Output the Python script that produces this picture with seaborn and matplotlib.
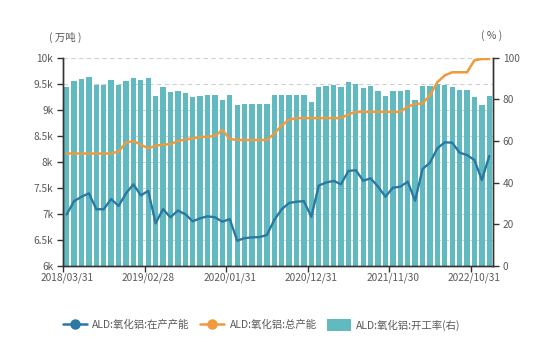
import numpy as np
import pandas as pd
import matplotlib
matplotlib.use("Agg")
import matplotlib.pyplot as plt
from matplotlib.lines import Line2D
from matplotlib.patches import Patch
from matplotlib.ticker import FuncFormatter, FixedLocator
import seaborn as sns

# Monthly alumina capacity data (万吨) and operating rate (%)
months = pd.date_range("2018-03-31", periods=58, freq="ME").strftime("%Y/%m/%d").tolist()

running_capacity = [
    6990, 7245, 7330, 7395, 7090, 7090, 7286, 7152, 7395, 7568,
    7355, 7443, 6820, 7092, 6935, 7065, 6995, 6858, 6916, 6955,
    6935, 6851, 6900, 6486, 6535, 6550, 6555, 6595, 6883, 7090,
    7210, 7235, 7245, 6945, 7545, 7603, 7635, 7570, 7825, 7840,
    7638, 7683, 7523, 7331, 7504, 7523, 7619, 7254, 7862, 7984,
    8260, 8375, 8368, 8176, 8131, 8035, 7651, 8112,
]

total_capacity = [
    8160, 8160, 8160, 8160, 8160, 8160, 8160, 8200, 8370, 8400,
    8330, 8260, 8310, 8330, 8340, 8400, 8430, 8450, 8480, 8480,
    8500, 8610, 8440, 8420, 8420, 8420, 8420, 8420, 8540, 8700,
    8810, 8840, 8840, 8840, 8840, 8840, 8840, 8840, 8910, 8960,
    8960, 8960, 8960, 8960, 8960, 8960, 9060, 9110, 9120, 9280,
    9530, 9660, 9720, 9720, 9720, 9950, 9975, 9975,
]

operating_rate = [
    85.7, 88.6, 89.9, 90.7, 86.8, 86.8, 89.3, 86.9, 88.7, 90.2,
    89.3, 90.2, 81.7, 85.7, 83.5, 84.2, 83.2, 80.9, 81.7, 82.3,
    82.0, 79.5, 82.1, 77.2, 77.7, 77.8, 77.8, 77.6, 82.0, 82.0,
    82.0, 82.0, 82.1, 78.5, 85.7, 86.4, 86.7, 86.1, 88.5, 87.5,
    85.3, 86.3, 83.9, 81.8, 84.0, 84.0, 84.5, 79.7, 86.4, 86.4,
    87.4, 86.9, 86.1, 84.5, 84.3, 81.0, 77.3, 81.5,
]

label_positions = [0, 11, 22, 33, 44, 55]
left_ticks = list(range(6000, 10001, 500))
right_ticks = list(range(0, 101, 20))

series_names = ["ALD:氧化铝:在产产能", "ALD:氧化铝:总产能", "ALD:氧化铝:开工率(右)"]

BLUE = "#2a78a4"
ORANGE = "#ef9a3c"
TEAL = "#60bac0"
TEXT = "#595959"
AXIS = "#333333"

sns.set_theme(style="white")
plt.rcParams["font.family"] = ["Noto Sans CJK SC", "DejaVu Sans"]
plt.rcParams["font.size"] = 7.3

df = pd.DataFrame({
    "idx": np.arange(len(months)),
    "month": months,
    "running": running_capacity,
    "total": total_capacity,
    "rate": operating_rate,
})

fig = plt.figure(figsize=(5.5, 3.42), dpi=100)
ax = fig.add_axes([0.1145, 0.2222, 0.7818, 0.6091])

# dashed guides aligned to the capacity ticks, drawn underneath the bars
lo, hi = left_ticks[0], left_ticks[-1]
for t in left_ticks[1:]:
    ax.axhline((t - lo) / (hi - lo) * 100, color="#d0d0d0", lw=0.8,
               ls=(0, (4, 3)), zorder=0)

sns.barplot(data=df, x="idx", y="rate", ax=ax, color=TEAL, saturation=1,
            width=0.72, native_scale=True, linewidth=0, zorder=2)

ax2 = ax.twinx()
sns.lineplot(data=df, x="idx", y="total", ax=ax2, color=ORANGE, lw=1.8,
             legend=False)
sns.lineplot(data=df, x="idx", y="running", ax=ax2, color=BLUE, lw=1.7,
             legend=False)

# right axis: operating rate
ax.set_ylim(0, 100)
ax.yaxis.tick_right()
ax.set_yticks(right_ticks)
ax.set_ylabel("")
ax.set_xlabel("")

# left axis: capacity
ax2.set_ylim(lo, hi)
ax2.yaxis.tick_left()
ax2.set_yticks(left_ticks)
ax2.yaxis.set_major_formatter(FuncFormatter(lambda v, p: f"{v / 1000:g}k"))
ax2.set_ylabel("")
ax2.set_xlabel("")

ax.set_xlim(-0.5, len(months) - 0.5)
ax.xaxis.set_major_locator(FixedLocator(label_positions))
ax.set_xticklabels([months[i] for i in label_positions])
ax.xaxis.set_minor_locator(FixedLocator([i - 0.5 for i in label_positions]))

for a in (ax, ax2):
    a.spines["top"].set_visible(False)
    for s in ("left", "right", "bottom"):
        a.spines[s].set_color(AXIS)
        a.spines[s].set_linewidth(1.0)

ax.tick_params(axis="x", which="major", length=0, pad=5, colors=TEXT, labelsize=7.3)
ax.tick_params(axis="x", which="minor", length=4, width=1, color=AXIS, bottom=True)
ax.tick_params(axis="y", right=True, left=False, length=4, width=1, color=AXIS,
               labelcolor=TEXT, labelsize=7.3, pad=3)
ax2.tick_params(axis="y", left=True, right=False, length=4, width=1, color=AXIS,
                labelcolor=TEXT, labelsize=7.3, pad=3)

fig.text(65 / 550, 1 - 37 / 342, "( 万吨 )", ha="center", va="center",
         color=TEXT, fontsize=7.5)
fig.text(492 / 550, 1 - 36 / 342, "( % )", ha="center", va="center",
         color=TEXT, fontsize=7.5)

handles = [
    Line2D([], [], color=BLUE, lw=1.8, marker="o", markersize=6.5),
    Line2D([], [], color=ORANGE, lw=1.8, marker="o", markersize=6.5),
    Patch(facecolor=TEAL, edgecolor="none"),
]
leg = fig.legend(handles, series_names, loc="center", ncol=3, frameon=False,
                 bbox_to_anchor=(262 / 550, 1 - 325 / 342), fontsize=7.5,
                 handlelength=2.3, handleheight=1.3, handletextpad=0.5,
                 columnspacing=1.0)
for txt in leg.get_texts():
    txt.set_color(TEXT)

fig.savefig("out.png", dpi=100, facecolor="white")
